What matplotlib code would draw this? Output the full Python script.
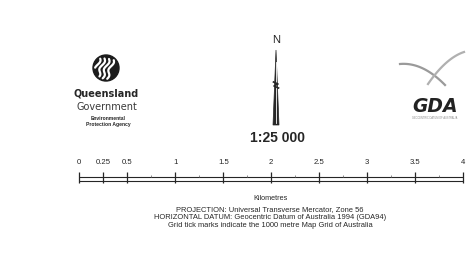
import numpy as np
import matplotlib.pyplot as plt
from matplotlib.patches import Circle, Polygon

# scale bar data (kilometres)
major_km = [0, 0.25, 0.5, 1, 1.5, 2, 2.5, 3, 3.5, 4]
major_labels = ["0", "0.25", "0.5", "1", "1.5", "2", "2.5", "3", "3.5", "4"]
minor_km = [0.75, 1.25, 1.75, 2.25, 2.75, 3.25, 3.75]
scale_text = "1:25 000"
unit_text = "Kilometres"
notes = [
    "PROJECTION: Universal Transverse Mercator, Zone 56",
    "HORIZONTAL DATUM: Geocentric Datum of Australia 1994 (GDA94)",
    "Grid tick marks indicate the 1000 metre Map Grid of Australia",
]

ink = "#262626"
plt.rcParams["font.family"] = ["Liberation Sans", "DejaVu Sans"]

fig = plt.figure(figsize=(4.7, 2.6), dpi=100)
fig.patch.set_facecolor("white")

# full-figure canvas in pixel units for the decorations
ax = fig.add_axes([0, 0, 1, 1])
ax.set_xlim(0, 470)
ax.set_ylim(260, 0)
ax.axis("off")

# --- Queensland Government logo ---
ax.add_patch(Circle((106, 68), 13, color="#1c1c1c"))
t = np.linspace(0, 1, 30)
for k, dx in enumerate([-6, -1.5, 3, 7.5]):
    xs = 106 + dx - 7 * t + 1.5 * np.sin(t * 3 * np.pi)
    ys = 58 + k * 0.5 + 20 * t
    keep = (xs - 106) ** 2 + (ys - 68) ** 2 < 11 ** 2
    ax.plot(xs[keep], ys[keep], color="white", lw=1.6, solid_capstyle="round")
ax.text(106, 94, "Queensland", ha="center", va="center", fontsize=7,
        fontweight="bold", color=ink, family="DejaVu Sans")
ax.text(107, 107.5, "Government", ha="center", va="center", fontsize=7,
        color="#3a3a3a", family="DejaVu Sans")
ax.text(108, 118.5, "Environmental", ha="center", va="center", fontsize=3.6,
        fontweight="bold", color=ink)
ax.text(108, 124.5, "Protection Agency", ha="center", va="center", fontsize=3.6,
        fontweight="bold", color=ink)

# --- north arrow ---
ax.text(276, 40, "N", ha="center", va="center", fontsize=8, color=ink)
ax.add_patch(Polygon([(276, 50), (279, 125), (273, 125)], closed=True,
                     facecolor=ink, edgecolor=ink, lw=0.5))
ax.plot([276, 276], [62, 123], color="white", lw=0.6)
ax.plot([273.5, 278, 274, 278.5], [82, 84, 86, 88], color=ink, lw=1.2)
ax.text(277, 138, scale_text, ha="center", va="center", fontsize=10,
        fontweight="bold", color=ink)

# --- GDA logo ---
s = np.linspace(0, 1, 40)
ax.plot(400 + 45 * s, 64 - 4 * s + 25 * s ** 2, color="#9a9a9a", lw=1.6)
ax.plot(464 - 36 * s, 52 + 12 * s + 20 * s ** 2, color="#b0b0b0", lw=1.6)
ax.text(435.5, 106.5, "GDA", ha="center", va="center", fontsize=13.5,
        fontweight="bold", style="italic", color="#222222", family="DejaVu Sans")
ax.text(435, 118, "GEOCENTRIC DATUM OF AUSTRALIA", ha="center", va="center",
        fontsize=1.8, color="#888888")

# --- scale bar, in km ---
bar = fig.add_axes([79.3 / 470, 1 - 190 / 260, 384 / 470, 35 / 260])
bar.set_xlim(0, 4)
bar.set_ylim(190, 155)
bar.axis("off")
bar.hlines([177.5, 181.5], major_km[0], major_km[-1], color=ink, lw=0.8)
bar.vlines(major_km, 172.5, 183, color=ink, lw=0.9, clip_on=False)
bar.vlines(minor_km, 175, 177.5, color="#777777", lw=0.6)
for km, lab in zip(major_km, major_labels):
    bar.text(km, 163, lab, ha="center", va="center", fontsize=5.6, color=ink)

# --- notes ---
ax.text(270, 198, unit_text, ha="center", va="center", fontsize=5.2, color=ink)
for i, line in enumerate(notes):
    ax.text(270, 210 + 7.6 * i, line, ha="center", va="center",
            fontsize=5.4, color=ink)

fig.savefig("out.png", dpi=100, facecolor="white")
